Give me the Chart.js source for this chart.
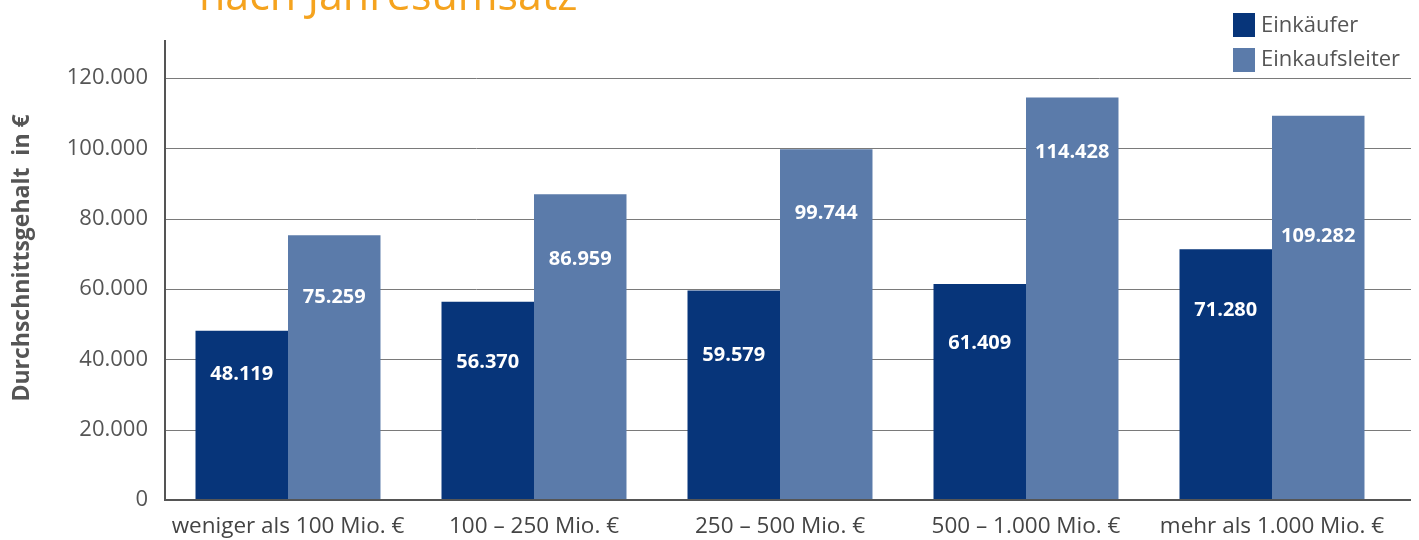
<!DOCTYPE html>
<html><head><meta charset="utf-8">
<script src="https://cdn.jsdelivr.net/npm/chart.js@4/dist/chart.umd.min.js"></script>
<style>html,body{margin:0;padding:0;background:#fff;}#wrap{width:1419px;height:540px;}</style>
</head><body><div id="wrap"><canvas id="c" width="1419" height="540"></canvas></div>
<script>
const categories = ['weniger als 100 Mio. €', '100 – 250 Mio. €', '250 – 500 Mio. €', '500 – 1.000 Mio. €', 'mehr als 1.000 Mio. €'];
const seriesNames = ['Einkäufer', 'Einkaufsleiter'];
const einkaeufer = [48119, 56370, 59579, 61409, 71280];
const einkaufsleiter = [75259, 86959, 99744, 114428, 109282];
const yTicks = [0, 20000, 40000, 60000, 80000, 100000, 120000];
const titleText = 'nach Jahresumsatz';
const yAxisTitle = 'Durchschnittsgehalt  in €';

const COLORS = ['#07357a', '#5b7baa'];
const FONT = '"Open Sans", "Noto Sans", sans-serif';
const LABEL_OFFSETS = [[44, 61, 65, 59, 61], [62, 65, 64, 55, 121]];

function fmt(v) { return String(v).replace(/\B(?=(\d{3})+(?!\d))/g, '.'); }

const decor = {
  id: 'decor',
  beforeDatasetsDraw(chart) {
    const ctx = chart.ctx, ca = chart.chartArea, ys = chart.scales.y;
    const right = ca.right + 16;
    ctx.save();
    ctx.strokeStyle = '#7a7a7a'; ctx.lineWidth = 1;
    yTicks.forEach(v => {
      if (v === 0) return;
      const y = Math.round(ys.getPixelForValue(v)) + 0.5;
      ctx.beginPath(); ctx.moveTo(ca.left, y); ctx.lineTo(right, y); ctx.stroke();
    });
    ctx.restore();
  },
  afterDatasetsDraw(chart) {
    const ctx = chart.ctx, ca = chart.chartArea;
    const right = ca.right + 16;
    ctx.save();
    ctx.strokeStyle = '#555'; ctx.lineWidth = 2;
    ctx.beginPath(); ctx.moveTo(ca.left, ca.top); ctx.lineTo(ca.left, ca.bottom + 1); ctx.stroke();
    ctx.beginPath(); ctx.moveTo(ca.left, ca.bottom); ctx.lineTo(right, ca.bottom); ctx.stroke();
    // value labels
    ctx.fillStyle = '#fff';
    ctx.font = 'bold 20px ' + FONT;
    ctx.textAlign = 'center'; ctx.textBaseline = 'middle';
    chart.data.datasets.forEach((ds, di) => {
      chart.getDatasetMeta(di).data.forEach((el, i) => {
        ctx.fillText(fmt(ds.data[i]), el.x, el.y + LABEL_OFFSETS[di][i]);
      });
    });
    ctx.restore();
  },
  afterDraw(chart) {
    const ctx = chart.ctx;
    ctx.save();
    // cut-off title
    ctx.fillStyle = '#f5a31e';
    ctx.font = '43px ' + FONT;
    ctx.textAlign = 'left'; ctx.textBaseline = 'alphabetic';
    ctx.fillText(titleText, 199, 10);
    // y axis title
    ctx.save();
    ctx.translate(22, 258);
    ctx.rotate(-Math.PI / 2);
    ctx.fillStyle = '#555';
    ctx.font = 'bold 23px ' + FONT;
    ctx.textAlign = 'center'; ctx.textBaseline = 'middle';
    ctx.fillText(yAxisTitle, 0, 0);
    ctx.restore();
    // legend
    ctx.font = '22px ' + FONT;
    ctx.textBaseline = 'middle';
    seriesNames.forEach((n, i) => {
      ctx.fillStyle = COLORS[i];
      ctx.fillRect(1233, 13 + i * 35, 22, 24);
      ctx.fillStyle = '#555';
      ctx.fillText(n, 1261, 26 + i * 34);
    });
    ctx.restore();
  }
};

new Chart(document.getElementById('c'), {
  type: 'bar',
  data: {
    labels: categories,
    datasets: [
      { label: seriesNames[0], data: einkaeufer, backgroundColor: COLORS[0] },
      { label: seriesNames[1], data: einkaufsleiter, backgroundColor: COLORS[1] }
    ]
  },
  options: {
    responsive: false,
    animation: false,
    layout: { padding: { top: 40, right: 24, left: 0, bottom: 0 } },
    datasets: { bar: { barPercentage: 1, categoryPercentage: 0.752 } },
    plugins: { legend: { display: false }, tooltip: { enabled: false }, title: { display: false } },
    scales: {
      x: {
        grid: { display: false, drawTicks: false },
        border: { display: false },
        ticks: { font: { family: FONT, size: 22.5 }, color: '#444', padding: 13, maxRotation: 0, autoSkip: false },
        afterFit(s) { s.height = 40; }
      },
      y: {
        min: 0, max: 130800,
        grid: { display: false, drawTicks: false },
        border: { display: false },
        afterBuildTicks(s) { s.ticks = yTicks.map(v => ({ value: v })); },
        ticks: { font: { family: FONT, size: 22 }, color: '#555', padding: 17, callback: v => fmt(v) },
        afterFit(s) { s.width = 165; }
      }
    }
  },
  plugins: [decor]
});
</script></body></html>
